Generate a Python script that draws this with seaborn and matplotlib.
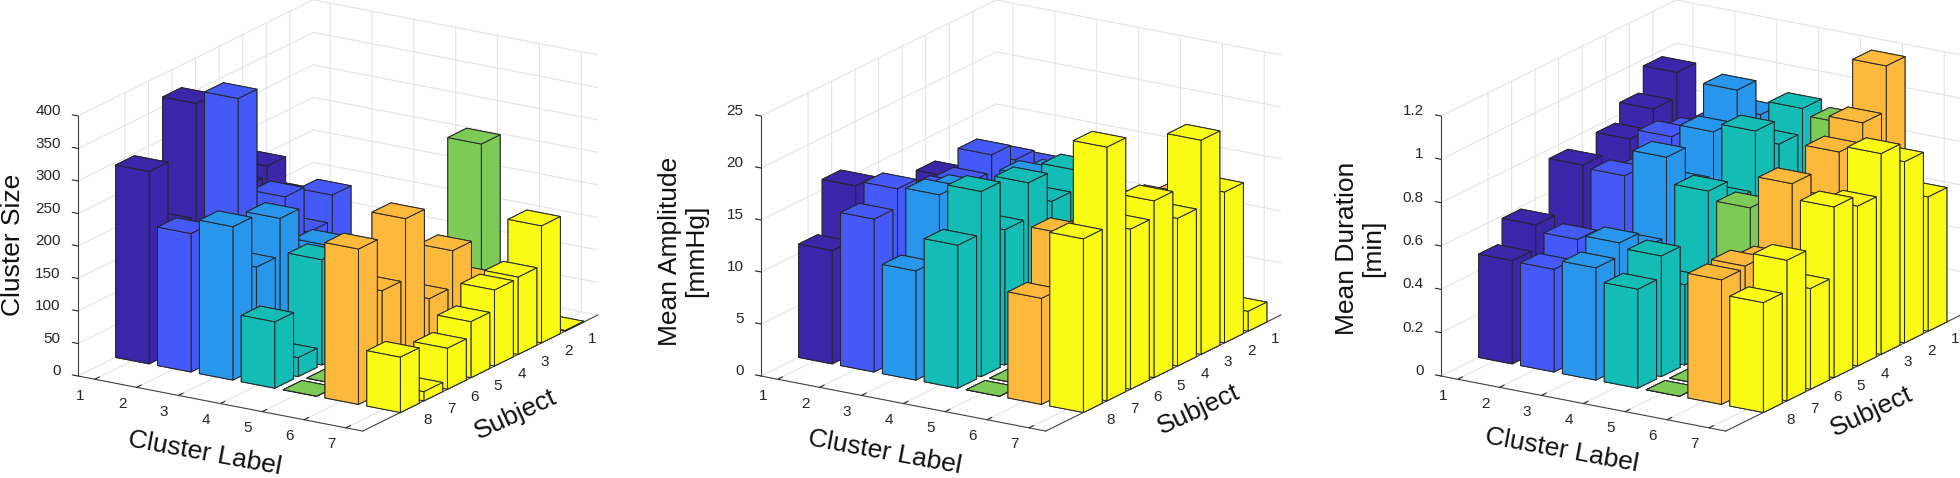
import numpy as np
import matplotlib
matplotlib.use("Agg")
import matplotlib.pyplot as plt
import seaborn as sns
from mpl_toolkits.mplot3d import proj3d

sns.set_theme(style="white")
plt.rcParams["font.family"] = ["Liberation Sans", "DejaVu Sans"]

clusters = [1, 2, 3, 4, 5, 6, 7]
subjects = [1, 2, 3, 4, 5, 6, 7, 8]
cluster_colors = ["#3B25A8", "#4558F8", "#2896EA", "#13BDB6", "#7DCB56", "#FDB93B", "#F9FB15"]

# rows: cluster 1..7, columns: subject 1..8
cluster_size = [
    [120, 150, 215, 200, 150, 365, 192, 296],
    [40, 165, 126, 198, 120, 385, 80, 213],
    [40, 60, 80, 136, 90, 213, 156, 236],
    [30, 40, 60, 80, 100, 162, 29, 102],
    [263, 0, 0, 0, 20, 0, 0, 0],
    [40, 60, 100, 165, 109, 250, 157, 239],
    [1, 180, 119, 117, 86, 63, 14, 85],
]
mean_amplitude = [
    [9, 10, 12.4, 10, 12, 11, 16, 10.9],
    [12, 13.7, 15.3, 13.7, 14, 13, 16.5, 14.7],
    [12, 13, 14, 13, 14, 16, 16.7, 10.5],
    [10, 13, 15.4, 13.5, 16.4, 13, 17.8, 13.75],
    [9, 0, 0, 0, 12, 0, 0, 0],
    [11, 13, 14, 13, 14, 14, 15.3, 10.2],
    [1.9, 14.5, 20.6, 14.2, 17, 15.4, 24.4, 16.7],
]
mean_duration = [
    [0.97, 0.855, 0.77, 0.6, 0.757, 0.45, 0.588, 0.477],
    [0.75, 0.78, 0.818, 0.7, 0.745, 0.47, 0.558, 0.474],
    [0.85, 1.017, 0.878, 0.68, 0.868, 0.5, 0.58, 0.518],
    [0.916, 0.805, 0.919, 0.65, 0.749, 0.37, 0.557, 0.457],
    [0.885, 0, 0, 0, 0.709, 0, 0, 0],
    [1.187, 0.978, 0.897, 0.7, 0.858, 0.55, 0.585, 0.575],
    [0.62, 0.836, 0.927, 0.738, 0.788, 0.465, 0.649, 0.507],
]

x_label = "Cluster Label"
y_label = "Subject"

panels = [
    dict(values=cluster_size, zlabel="Cluster Size", zmax=400,
         zticks=[0, 50, 100, 150, 200, 250, 300, 350, 400],
         zticklabels=["0", "50", "100", "150", "200", "250", "300", "350", "400"],
         ox=78.0, xl=(205, 453), yl=(516, 415), zl=(13, 245)),
    dict(values=mean_amplitude, zlabel="Mean Amplitude\n[mmHg]", zmax=25,
         zticks=[0, 5, 10, 15, 20, 25],
         zticklabels=["0", "5", "10", "15", "20", "25"],
         ox=761.0, xl=(885, 452), yl=(1199, 410), zl=(683, 251)),
    dict(values=mean_duration, zlabel="Mean Duration\n[min]", zmax=1.2,
         zticks=[0, 0.2, 0.4, 0.6, 0.8, 1.0, 1.2],
         zticklabels=["0", "0.2", "0.4", "0.6", "0.8", "1", "1.2"],
         ox=1441.0, xl=(1562, 450), yl=(1872, 412), zl=(1360, 248)),
]

W, H = 1960, 478
XLIM = (0.6, 7.4)
YLIM = (10, 0)
BAR = 0.8
AXC = "#404040"
palette = sns.color_palette(cluster_colors)

fig = plt.figure(figsize=(W / 100, H / 100), dpi=100, facecolor="white")


def to_px(ax, x, y, z):
    px, py, _ = proj3d.proj_transform(x, y, z, ax.get_proj())
    return ax.transData.transform((px, py))


def place(ax, ox, oy):
    """Scale and move the square axes so the left box corner lands on (ox, oy) px from top-left."""
    S, cx, cy = 500.0, W / 2, H / 2
    for _ in range(3):
        ax.set_position([(cx - S / 2) / W, (cy - S / 2) / H, S / W, S / H])
        ax.apply_aspect()
        a = to_px(ax, XLIM[0], YLIM[0], 0)
        b = to_px(ax, XLIM[1], YLIM[0], 0)
        S *= 284.7 / (b[0] - a[0])
        ax.set_position([(cx - S / 2) / W, (cy - S / 2) / H, S / W, S / H])
        ax.apply_aspect()
        a = to_px(ax, XLIM[0], YLIM[0], 0)
        cx += ox - a[0]
        cy += (H - oy) - a[1]
    ax.set_position([(cx - S / 2) / W, (cy - S / 2) / H, S / W, S / H])


def label(xy, text, rotation):
    fig.text(xy[0] / W, 1 - xy[1] / H, text, rotation=rotation, fontsize=19,
             ha="center", va="center", rotation_mode="anchor", color="#111111",
             linespacing=1.12, multialignment="center")


for p in panels:
    ax = fig.add_subplot(projection="3d", proj_type="ortho", computed_zorder=False)
    ax.patch.set_alpha(0)
    ax.view_init(elev=18, azim=-57.95)
    ax.set_box_aspect((335.9, 443.4, 273.4))
    ax.set_xlim(*XLIM, view_margin=0)
    ax.set_ylim(*YLIM, view_margin=0)
    ax.set_zlim(0, p["zmax"], view_margin=0)

    order = 0
    for ci, c in enumerate(clusters):
        for si, s in enumerate(subjects):
            ax.bar3d(c - BAR / 2, s - BAR / 2, 0, BAR, BAR, p["values"][ci][si],
                     color=palette[ci], edgecolor="#26262b", linewidth=0.7,
                     shade=False, zorder=10 + order)
            order += 1

    ax.set_xticks(clusters)
    ax.set_yticks(subjects)
    ax.set_zticks(p["zticks"])
    ax.set_xticklabels([str(c) for c in clusters], ha="center", va="bottom")
    ax.set_yticklabels([str(s) for s in subjects], va="bottom")
    ax.set_zticklabels(p["zticklabels"], ha="right", va="bottom")
    ax.tick_params(axis="both", labelsize=11, colors="#262626")
    ax.tick_params(axis="x", pad=6)
    ax.tick_params(axis="y", pad=6)
    ax.tick_params(axis="z", pad=-0.5)

    for axis in (ax.xaxis, ax.yaxis, ax.zaxis):
        axis.set_pane_color((1, 1, 1, 0))
        axis.pane.set_edgecolor((1, 1, 1, 0))
        axis.line.set_color(AXC)
        axis.line.set_linewidth(0.8)
        axis._axinfo["grid"].update(color="#e4e4e4", linewidth=0.8)
        axis._axinfo["tick"].update(inward_factor=0.0, outward_factor=0.25, color=AXC,
                                    linewidth={True: 0.8, False: 0.8})
    ax.zaxis.set_ticks_position("upper")
    ax.zaxis._get_tickdir = lambda position: 0  # z ticks point along the x axis

    label(p["xl"], x_label, -10.5)
    label(p["yl"], y_label, 25)
    label(p["zl"], p["zlabel"], 90)

    place(ax, p["ox"], 376.0)

fig.savefig("out.png", dpi=100, facecolor="white")
